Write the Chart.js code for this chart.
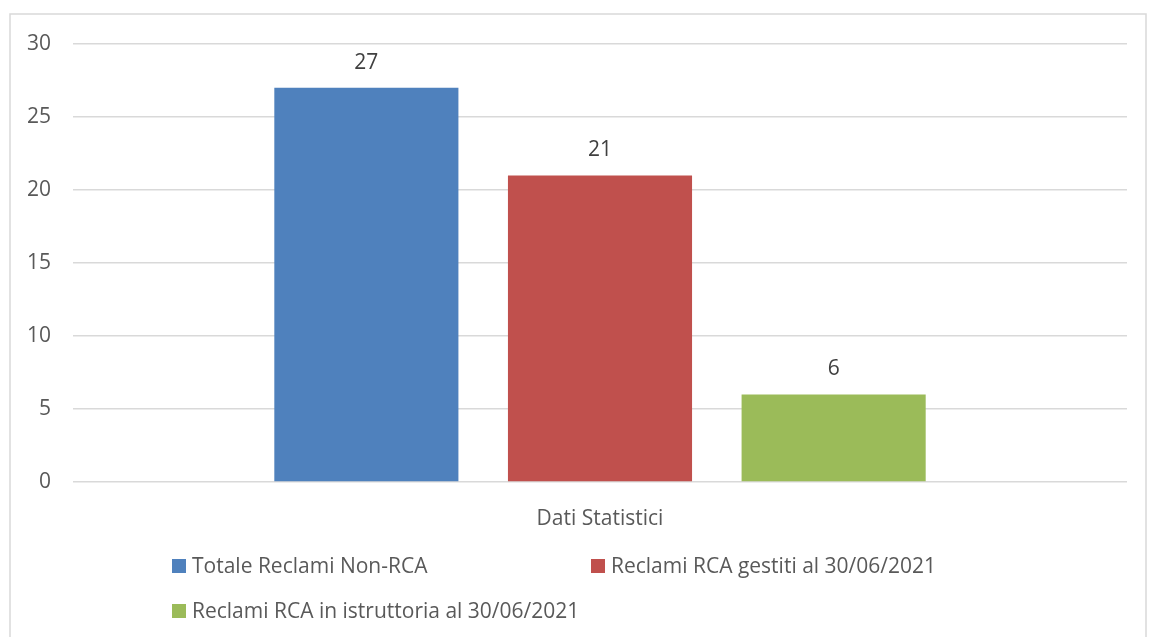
<!DOCTYPE html>
<html>
<head>
<meta charset="utf-8">
<script src="https://cdn.jsdelivr.net/npm/chart.js@4"></script>
<style>
  html, body { margin: 0; padding: 0; background: #fff; }
  #wrap { width: 1150px; height: 637px; }
</style>
</head>
<body>
<div id="wrap"><canvas id="reclamiChart"></canvas></div>
<script>
const categories = ['Dati Statistici'];
const seriesNames = ['Totale Reclami Non-RCA', 'Reclami RCA gestiti al 30/06/2021', 'Reclami RCA in istruttoria al 30/06/2021'];
const totaleNonRca = [27];
const rcaGestiti = [21];
const rcaIstruttoria = [6];
const yTicks = [0, 5, 10, 15, 20, 25, 30];

const FONT = "'Open Sans', sans-serif";
const TXT = '#595959';

// frame round the chart, like the office chart border
const framePlugin = {
  id: 'frame',
  beforeDraw(chart) {
    const ctx = chart.ctx;
    ctx.save();
    ctx.strokeStyle = '#D9D9D9';
    ctx.lineWidth = 1.5;
    ctx.strokeRect(10, 14, 1136, 700);
    ctx.restore();
  }
};

// value above each bar
const valueLabels = {
  id: 'valueLabels',
  afterDatasetsDraw(chart) {
    const ctx = chart.ctx;
    ctx.save();
    ctx.font = '21px ' + FONT;
    ctx.fillStyle = '#404040';
    ctx.textAlign = 'center';
    ctx.textBaseline = 'middle';
    chart.data.datasets.forEach((ds, i) => {
      chart.getDatasetMeta(i).data.forEach((bar, j) => {
        ctx.fillText(ds.data[j], bar.x, bar.y - 25);
      });
    });
    ctx.restore();
  }
};

// legend laid out in two columns like the original
const gridLegend = {
  id: 'gridLegend',
  afterDraw(chart) {
    const ctx = chart.ctx;
    const spots = [[172, 566], [591, 566], [172, 611]];
    ctx.save();
    ctx.font = '21px ' + FONT;
    ctx.textBaseline = 'middle';
    chart.data.datasets.forEach((ds, i) => {
      const [x, y] = spots[i];
      ctx.fillStyle = ds.backgroundColor;
      ctx.fillRect(x, y - 7, 14, 14);
      ctx.fillStyle = TXT;
      ctx.fillText(ds.label, x + 20, y + 1);
    });
    ctx.restore();
  }
};

new Chart(document.getElementById('reclamiChart'), {
  type: 'bar',
  data: {
    labels: categories,
    datasets: [
      { label: seriesNames[0], data: totaleNonRca, backgroundColor: '#4F81BD' },
      { label: seriesNames[1], data: rcaGestiti, backgroundColor: '#C0504D' },
      { label: seriesNames[2], data: rcaIstruttoria, backgroundColor: '#9BBB59' }
    ]
  },
  options: {
    responsive: true,
    maintainAspectRatio: false,
    animation: false,
    categoryPercentage: 0.665,
    barPercentage: 0.788,
    layout: { padding: { top: 44, right: 23, bottom: 99, left: 0 } },
    plugins: {
      legend: { display: false },
      tooltip: { enabled: false }
    },
    scales: {
      x: {
        grid: { display: false },
        border: { display: false },
        ticks: { color: TXT, font: { family: FONT, size: 21 }, padding: 16 },
        afterFit(scale) { scale.height = 56; }
      },
      y: {
        min: 0,
        max: 30,
        afterBuildTicks(scale) { scale.ticks = yTicks.map(v => ({ value: v })); },
        grid: { color: '#D9D9D9', lineWidth: 1.5, drawTicks: false },
        border: { display: false },
        ticks: { color: TXT, font: { family: FONT, size: 21 }, padding: 22 },
        afterFit(scale) { scale.width = 73; }
      }
    }
  },
  plugins: [framePlugin, valueLabels, gridLegend]
});
</script>
</body>
</html>
